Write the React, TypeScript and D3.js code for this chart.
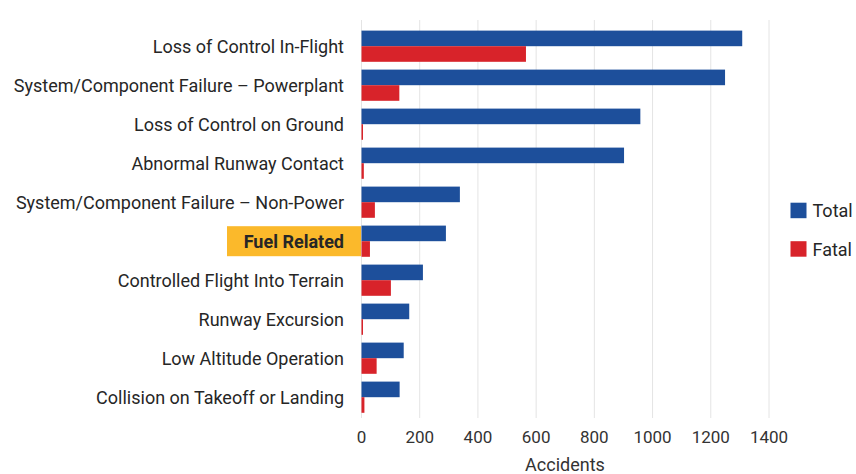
import React from "react";
import * as d3 from "d3";

const categories = [
  "Loss of Control In-Flight",
  "System/Component Failure – Powerplant",
  "Loss of Control on Ground",
  "Abnormal Runway Contact",
  "System/Component Failure – Non-Power",
  "Fuel Related",
  "Controlled Flight Into Terrain",
  "Runway Excursion",
  "Low Altitude Operation",
  "Collision on Takeoff or Landing",
];
const totalValues = [1308, 1249, 958, 902, 338, 290, 211, 164, 145, 131];
const fatalValues = [565, 130, 3, 8, 46, 29, 101, 3, 52, 10];
const xTicks = [0, 200, 400, 600, 800, 1000, 1200, 1400];
const seriesNames = ["Total", "Fatal"];
const highlighted = "Fuel Related";

const W = 856;
const H = 474;
const BLUE = "#1d4f9b";
const RED = "#d8232a";
const FONT = "Roboto, 'Open Sans', sans-serif";

export default function App() {
  const x = d3.scaleLinear().domain([0, 1400]).range([361.5, 769]);
  const y = d3
    .scaleBand<string>()
    .domain(categories)
    .range([26.7, 416.7])
    .paddingInner(0.2)
    .paddingOuter(0.1);
  const bw = y.bandwidth();
  const half = bw / 2;
  const colors = [BLUE, RED];

  return (
    <svg
      width={W}
      height={H}
      style={{ position: "absolute", left: 0, top: 0, background: "#fff" }}
      fontFamily={FONT}
    >
      {xTicks.map((t) => (
        <line
          key={"g" + t}
          x1={x(t)}
          x2={x(t)}
          y1={20}
          y2={418}
          stroke="#e4e4e4"
          strokeWidth={1}
        />
      ))}
      {categories.map((c, i) => {
        const y0 = y(c)!;
        return (
          <g key={c}>
            <rect x={x(0)} y={y0} width={x(totalValues[i]) - x(0)} height={half} fill={BLUE} />
            <rect
              x={x(0)}
              y={y0 + half}
              width={Math.max(1.5, x(fatalValues[i]) - x(0))}
              height={half}
              fill={RED}
            />
            {c === highlighted && (
              <rect x={227} y={y0 + half - 15} width={134} height={30} fill="#fbb92b" />
            )}
            <text
              x={344}
              y={y0 + half}
              dy="0.35em"
              textAnchor="end"
              fontSize={18}
              fontWeight={c === highlighted ? 700 : 400}
              fill="#262626"
            >
              {c}
            </text>
          </g>
        );
      })}
      {xTicks.map((t) => (
        <text
          key={"t" + t}
          x={x(t)}
          y={437}
          dy="0.35em"
          textAnchor="middle"
          fontSize={17}
          fill="#333"
        >
          {t}
        </text>
      ))}
      <text x={565} y={465} dy="0.35em" textAnchor="middle" fontSize={18} fill="#333">
        Accidents
      </text>
      {seriesNames.map((s, i) => (
        <g key={s} transform={`translate(790.5, ${202.7 + i * 38.5})`}>
          <rect width={16} height={15.5} fill={colors[i]} />
          <text x={22} y={8} dy="0.35em" fontSize={18} fill="#262626">
            {s}
          </text>
        </g>
      ))}
    </svg>
  );
}
